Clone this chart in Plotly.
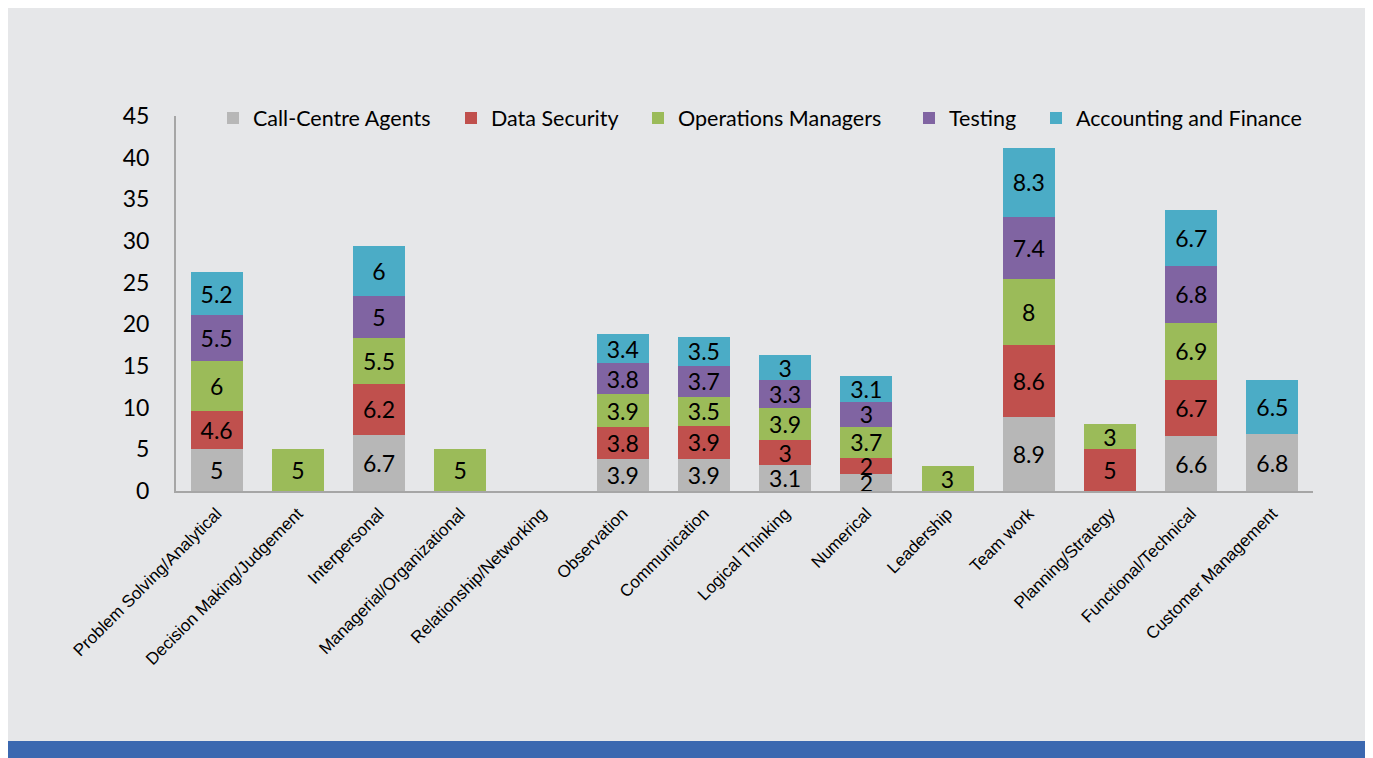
import plotly.graph_objects as go

categories = ["Problem Solving/Analytical", "Decision Making/Judgement", "Interpersonal",
              "Managerial/Organizational", "Relationship/Networking", "Observation",
              "Communication", "Logical Thinking", "Numerical", "Leadership", "Team work",
              "Planning/Strategy", "Functional/Technical", "Customer Management"]

call_centre = [5, None, 6.7, None, None, 3.9, 3.9, 3.1, 2, None, 8.9, None, 6.6, 6.8]
data_security = [4.6, None, 6.2, None, None, 3.8, 3.9, 3, 2, None, 8.6, 5, 6.7, None]
operations = [6, 5, 5.5, 5, None, 3.9, 3.5, 3.9, 3.7, 3, 8, 3, 6.9, None]
testing = [5.5, None, 5, None, None, 3.8, 3.7, 3.3, 3, None, 7.4, None, 6.8, None]
accounting = [5.2, None, 6, None, None, 3.4, 3.5, 3, 3.1, None, 8.3, None, 6.7, 6.5]

series = [
    ("Call-Centre Agents", call_centre, "#b7b7b7"),
    ("Data Security", data_security, "#c0504d"),
    ("Operations Managers", operations, "#9bbb59"),
    ("Testing", testing, "#8064a2"),
    ("Accounting and Finance", accounting, "#4bacc6"),
]

W, H = 1373, 758
L, R, T, B = 168, 68, 108, 275
pw, ph = W - L - R, H - T - B

def px(x):
    return (x - L) / pw

def py(y):
    return (H - B - y) / ph

legend_x = [205, 443, 630, 901, 1028]
LFONT = "Lato, Carlito, sans-serif"

fig = go.Figure()
legend_layouts = {}
for i, (name, vals, col) in enumerate(series):
    lname = "legend" if i == 0 else f"legend{i + 1}"
    fig.add_trace(go.Bar(
        x=categories, y=vals, name=name, marker=dict(color=col, line=dict(width=0)),
        text=[("" if v is None else f"{v:g}") for v in vals],
        textposition="inside", insidetextanchor="middle", textangle=0,
        textfont=dict(family=LFONT, size=23, color="black"),
        cliponaxis=False, legend=lname, showlegend=True,
    ))
    legend_layouts[lname] = dict(
        orientation="h", x=px(legend_x[i]), xanchor="left", y=py(110), yanchor="middle",
        font=dict(size=21.5, family=LFONT, color="black"), bgcolor="rgba(0,0,0,0)",
        itemwidth=30, visible=True)

fig.update_layout(
    width=W, height=H, barmode="stack", bargap=0.36, showlegend=True,
    margin=dict(l=L, r=R, t=T, b=B),
    paper_bgcolor="#e6e7e9", plot_bgcolor="rgba(0,0,0,0)",
    uniformtext=dict(minsize=23, mode="show"),
    font=dict(family=LFONT, color="black"),
    shapes=[
        dict(type="rect", xref="paper", yref="paper", x0=px(-10), x1=px(1400), y0=py(760), y1=py(733),
             fillcolor="#3b68b0", line=dict(width=0), layer="below"),
    ],
    **legend_layouts,
)
fig.update_yaxes(range=[0, 45], dtick=5, showgrid=False, zeroline=False,
                 showline=True, linecolor="#a6a6a6", linewidth=2, ticks="",
                 tickfont=dict(size=23, family=LFONT), ticklabelstandoff=20)
fig.update_xaxes(showgrid=False, showline=True, linecolor="#a6a6a6", linewidth=2, ticks="",
                 tickangle=-45, tickfont=dict(size=17, family="Liberation Sans, Arial, sans-serif"),
                 ticklabelstandoff=4)

fig.write_html("out.html")
